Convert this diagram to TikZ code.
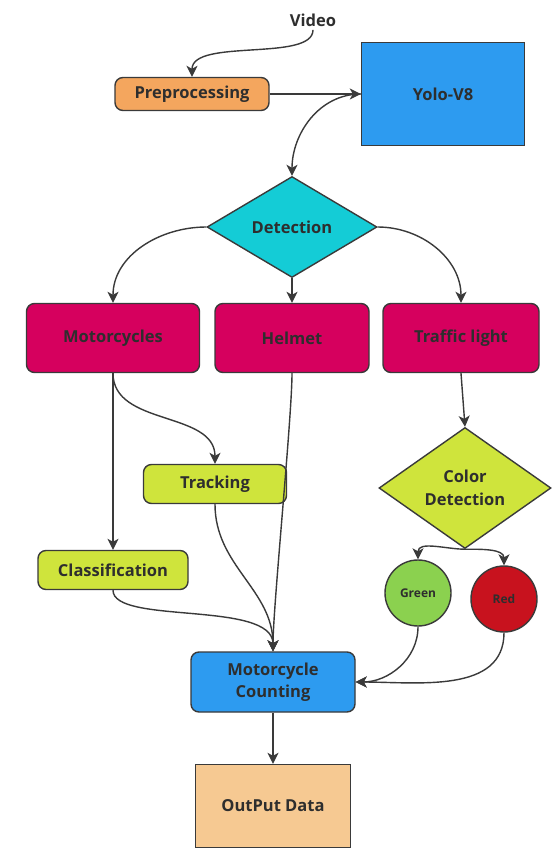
\documentclass[tikz,border=0pt]{standalone}
\usepackage{fontspec}
\setmainfont{Open Sans}
\usetikzlibrary{shapes.geometric,arrows.meta}
\definecolor{inkline}{HTML}{3A3A3A}
\definecolor{inktext}{HTML}{2E2E2E}
\definecolor{prepfill}{HTML}{F4A65E}
\definecolor{yolofill}{HTML}{2D9BF0}
\definecolor{detfill}{HTML}{14CCD6}
\definecolor{catfill}{HTML}{D6005E}
\definecolor{limefill}{HTML}{CFE43C}
\definecolor{greenfill}{HTML}{8BD14F}
\definecolor{redfill}{HTML}{C8121E}
\definecolor{outfill}{HTML}{F6C992}

\begin{document}
\begin{tikzpicture}[
  x={(1pt,0pt)},
  y={(0pt,-1pt)},
  font=\bfseries\fontsize{16.5}{22.5}\selectfont,
  text=inktext,
  box/.style={draw=inkline, line width=1.4pt, inner sep=0pt, align=center},
  roundbox/.style={box, rounded corners=8pt},
  decide/.style={box, diamond},
  lamp/.style={box, circle, minimum size=66,
    font=\bfseries\fontsize{12}{14}\selectfont},
  link/.style={draw=inkline, line width=1.4pt,
    -{Stealth[length=11pt,width=11pt,inset=3pt]}}
]
\useasboundingbox[fill=white] (0,0) rectangle (558,852);

% input and model
\node (video) at (313,20) {Video};
\node[roundbox, fill=prepfill, minimum width=154, minimum height=33]
  (prep) at (192,94) {Preprocessing};
\node[box, fill=yolofill, minimum width=163, minimum height=103]
  (yolo) at (443,94) {Yolo-V8};

% detection
\node[decide, fill=detfill, minimum width=170, minimum height=101]
  (detect) at (292,227) {Detection};

\node[roundbox, fill=catfill, minimum width=173, minimum height=69]
  (moto) at (113,338) {Motorcycles};
\node[roundbox, fill=catfill, minimum width=154, minimum height=69]
  (helmet) at (292,338) {Helmet};
\node[roundbox, fill=catfill, minimum width=156, minimum height=69]
  (light) at (461,338) {Traffic light};

% motorcycles branch
\node[roundbox, fill=limefill, minimum width=143, minimum height=39]
  (track) at (215,484) {Tracking};
\node[roundbox, fill=limefill, minimum width=150, minimum height=39]
  (classify) at (113,570) {Classification};

% traffic light branch
\node[decide, fill=limefill, minimum width=172, minimum height=121]
  (color) at (465,488) {Color\\Detection};
\node[lamp, fill=greenfill] (green) at (418,593) {Green};
\node[lamp, fill=redfill] (red) at (504,599) {Red};

% output
\node[roundbox, fill=yolofill, minimum width=164, minimum height=60]
  (count) at (273,682) {Motorcycle\\Counting};
\node[box, fill=outfill, minimum width=155, minimum height=83]
  (outdata) at (273,806) {OutPut Data};

\draw[link] (video.south) .. controls (313,62) and (192,38) .. (prep.north);
\draw[link] (prep.east) -- (yolo.west);
\draw[link] (yolo.west) to[out=180, in=90] (detect.north);

\draw[link] (detect.west) to[out=180, in=90] (moto.north);
\draw[link] (detect.south) -- (helmet.north);
\draw[link] (detect.east) to[out=0, in=90] (light.north);

\draw[link] (moto.south) -- (classify.north);
\draw[link] (moto.south) to[out=-90, in=90] (track.north);

\draw[link] (track.south) to[out=-90, in=90] (count.north);
\draw[link] (helmet.south) to[out=-90, in=90, looseness=.4] (count.north);
\draw[link] (classify.south) .. controls (113,625) and (273,600) .. (count.north);

\draw[link] (light.south) -- (color.north);
\draw[link] (color.south) to[out=180, in=90] (green.north);
\draw[link] (color.south) to[out=0, in=90] (red.north);
\draw[link] (green.south) to[out=-90, in=0] (count.east);
\draw[link] (red.south) to[out=-90, in=0] (count.east);

\draw[link] (count.south) -- (outdata.north);
\end{tikzpicture}
\end{document}
